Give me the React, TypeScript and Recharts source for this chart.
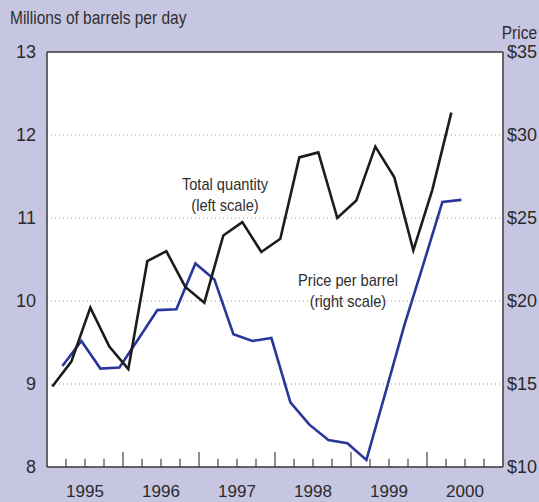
import React from "react";
import {
  LineChart,
  Line,
  XAxis,
  YAxis,
  CartesianGrid,
  ReferenceLine,
} from "recharts";

// quarterly readings, 1995Q1 .. 2000Q2
const years = ["1995", "1996", "1997", "1998", "1999", "2000"];
const quantity = [
  8.97, 9.27, 9.92, 9.45, 9.18, 10.48, 10.6, 10.17, 9.98, 10.79, 10.95,
  10.59, 10.75, 11.73, 11.79, 11.0, 11.21, 11.86, 11.49, 10.61, 11.34, 12.27,
];
const price = [
  16.08, 17.59, 15.93, 15.99, 17.71, 19.45, 19.5, 22.26, 21.3, 18.0, 17.59,
  17.77, 13.89, 12.55, 11.63, 11.43, 10.43, 14.47, 18.55, 22.22, 25.97, 26.09,
];
const leftTicks = [8, 9, 10, 11, 12, 13];
const rightTicks = [10, 15, 20, 25, 30, 35];

// where inside each quarter the two series are plotted
const QTY_OFFSET = 0.28;
const PRICE_OFFSET = 0.81;

const rows = [
  ...quantity.map((v, i) => ({ t: i + QTY_OFFSET, qty: v })),
  ...price.map((v, i) => ({ t: i + PRICE_OFFSET, price: v })),
].sort((a, b) => a.t - b.t);

const quarterMarks = Array.from({ length: 23 }, (_, i) => i + 1);
const yearCenters = years.map((_, i) => i * 4 + 2);

const FONT = "'Liberation Sans', Arial, sans-serif";
const TEXT = "#2a2a2a";
const AXIS = "#3a3a3a";

// no narrow face installed, so squeeze the regular one
const narrow: React.CSSProperties = {
  position: "absolute",
  fontFamily: FONT,
  color: "#2e2e2e",
  whiteSpace: "nowrap",
  transform: "scaleX(0.86)",
};

const note: React.CSSProperties = {
  ...narrow,
  fontSize: 17,
  textAlign: "center",
  lineHeight: "21px",
  transformOrigin: "50% 0",
};

export default function App() {
  return (
    <div
      style={{
        position: "absolute",
        left: 0,
        top: 0,
        width: 539,
        height: 502,
        background: "#c7c6e2",
        overflow: "hidden",
      }}
    >
      <LineChart
        width={539}
        height={502}
        data={rows}
        margin={{ top: 52, right: 0, bottom: 0, left: 0 }}
      >
        <CartesianGrid
          yAxisId="left"
          vertical={false}
          fill="#ffffff"
          stroke="#9a9a9a"
          strokeDasharray="1 3"
        />
        <XAxis
          dataKey="t"
          type="number"
          domain={[0, 24]}
          ticks={yearCenters}
          tickFormatter={(v: number) => years[(v - 2) / 4]}
          height={35}
          tickSize={0}
          tickMargin={18}
          tick={{ fill: TEXT, fontSize: 17, fontFamily: FONT }}
          axisLine={{ stroke: AXIS, strokeWidth: 1.5 }}
          allowDataOverflow
        />
        <YAxis
          yAxisId="left"
          orientation="left"
          domain={[8, 13]}
          ticks={leftTicks}
          width={47}
          tickSize={0}
          tickMargin={11}
          tickLine={false}
          tick={{ fill: TEXT, fontSize: 18, fontFamily: FONT }}
          axisLine={{ stroke: AXIS, strokeWidth: 1.5 }}
        />
        <YAxis
          yAxisId="right"
          orientation="right"
          domain={[10, 35]}
          ticks={rightTicks}
          tickFormatter={(v: number) => `$${v}`}
          width={36}
          tickSize={0}
          tickMargin={4}
          tickLine={false}
          tick={{ fill: TEXT, fontSize: 18, fontFamily: FONT, textAnchor: "start" }}
          axisLine={{ stroke: AXIS, strokeWidth: 1.5 }}
        />
        <ReferenceLine yAxisId="left" y={13} stroke={AXIS} strokeWidth={1.5} />
        {quarterMarks.map((q) => (
          <ReferenceLine
            key={q}
            yAxisId="left"
            segment={[
              { x: q, y: 8 },
              { x: q, y: q % 4 === 0 ? 8.18 : 8.1 },
            ]}
            stroke="#6a6a6a"
            strokeWidth={1.5}
          />
        ))}
        <Line
          yAxisId="right"
          dataKey="price"
          stroke="#29369a"
          strokeWidth={2.6}
          strokeLinejoin="miter"
          dot={false}
          connectNulls
          isAnimationActive={false}
        />
        <Line
          yAxisId="left"
          dataKey="qty"
          stroke="#1c1c1c"
          strokeWidth={2.6}
          strokeLinejoin="miter"
          dot={false}
          connectNulls
          isAnimationActive={false}
        />
      </LineChart>

      <div
        style={{
          ...narrow,
          left: 10,
          top: 8,
          fontSize: 18,
          transformOrigin: "0 0",
        }}
      >
        Millions of barrels per day
      </div>
      <div
        style={{
          ...narrow,
          right: 2,
          top: 23,
          fontSize: 18,
          transformOrigin: "100% 0",
        }}
      >
        Price
      </div>
      <div style={{ ...note, left: 165, top: 174, width: 120 }}>
        Total quantity
        <br />
        (left scale)
      </div>
      <div style={{ ...note, left: 283, top: 270, width: 130 }}>
        Price per barrel
        <br />
        (right scale)
      </div>
    </div>
  );
}
